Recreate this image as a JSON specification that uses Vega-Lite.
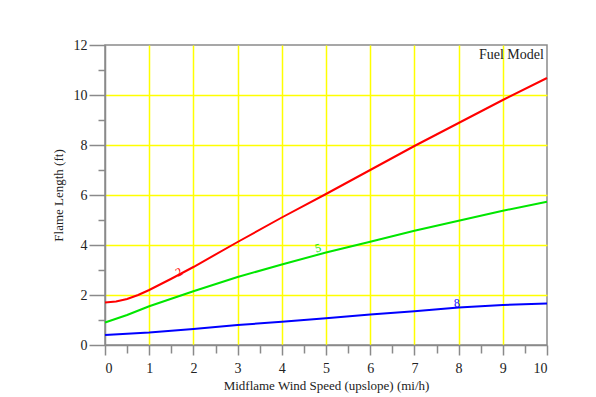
{
  "$schema": "https://vega.github.io/schema/vega-lite/v6.json",
  "width": 442,
  "height": 300,
  "autosize": {"type": "none"},
  "padding": {"left": 105, "top": 45, "right": 49, "bottom": 52},
  "background": "white",
  "config": {
    "view": {"stroke": "#8a8a8a", "strokeWidth": 1.5},
    "font": "Liberation Serif",
    "axis": {"domainColor": "#8a8a8a", "domainWidth": 1.5, "tickColor": "#8a8a8a", "tickWidth": 1.5, "labelFont": "Liberation Serif", "labelFontSize": 14, "labelColor": "#222222", "titleFont": "Liberation Serif", "titleFontSize": 13, "titleFontWeight": "normal", "titleColor": "#222222", "gridColor": "#ffff00", "gridWidth": 1.5, "gridOpacity": 1}
  },
  "datasets": {
    "lines": [
      {"model": "2", "wind": 0, "flame": 1.7},
      {"model": "2", "wind": 0.25, "flame": 1.74},
      {"model": "2", "wind": 0.5, "flame": 1.84},
      {"model": "2", "wind": 0.75, "flame": 2.0},
      {"model": "2", "wind": 1, "flame": 2.2},
      {"model": "2", "wind": 1.5, "flame": 2.65},
      {"model": "2", "wind": 2, "flame": 3.12},
      {"model": "2", "wind": 3, "flame": 4.12},
      {"model": "2", "wind": 4, "flame": 5.1},
      {"model": "2", "wind": 5, "flame": 6.04},
      {"model": "2", "wind": 6, "flame": 7.0},
      {"model": "2", "wind": 7, "flame": 7.96},
      {"model": "2", "wind": 8, "flame": 8.88},
      {"model": "2", "wind": 9, "flame": 9.8},
      {"model": "2", "wind": 10, "flame": 10.68},
      {"model": "5", "wind": 0, "flame": 0.9},
      {"model": "5", "wind": 0.5, "flame": 1.2},
      {"model": "5", "wind": 1, "flame": 1.55},
      {"model": "5", "wind": 1.5, "flame": 1.85},
      {"model": "5", "wind": 2, "flame": 2.15},
      {"model": "5", "wind": 3, "flame": 2.72},
      {"model": "5", "wind": 4, "flame": 3.22},
      {"model": "5", "wind": 5, "flame": 3.7},
      {"model": "5", "wind": 6, "flame": 4.13},
      {"model": "5", "wind": 7, "flame": 4.57},
      {"model": "5", "wind": 8, "flame": 4.97},
      {"model": "5", "wind": 9, "flame": 5.37},
      {"model": "5", "wind": 10, "flame": 5.73},
      {"model": "8", "wind": 0, "flame": 0.4},
      {"model": "8", "wind": 1, "flame": 0.5},
      {"model": "8", "wind": 2, "flame": 0.64},
      {"model": "8", "wind": 3, "flame": 0.8},
      {"model": "8", "wind": 4, "flame": 0.93},
      {"model": "8", "wind": 5, "flame": 1.07},
      {"model": "8", "wind": 6, "flame": 1.22},
      {"model": "8", "wind": 7, "flame": 1.35},
      {"model": "8", "wind": 8, "flame": 1.5},
      {"model": "8", "wind": 9, "flame": 1.6},
      {"model": "8", "wind": 10, "flame": 1.66}
    ],
    "labels": [
      {"model": "2", "wind": 1.67, "flame": 2.92},
      {"model": "5", "wind": 4.82, "flame": 3.88},
      {"model": "8", "wind": 7.96, "flame": 1.68}
    ],
    "title": [{"label": "Fuel Model"}]
  },
  "resolve": {"axis": {"x": "independent", "y": "independent"}},
  "layer": [
    {
      "data": {"name": "lines"},
      "mark": {"type": "line", "strokeWidth": 2, "opacity": 0},
      "encoding": {
        "x": {"field": "wind", "type": "quantitative", "scale": {"domain": [0, 10], "nice": false},
          "axis": {"orient": "bottom", "values": [1, 2, 3, 4, 5, 6, 7, 8, 9], "labels": false, "domain": false, "ticks": false, "grid": true, "gridColor": "#ffff00", "title": null}},
        "y": {"field": "flame", "type": "quantitative", "scale": {"domain": [0, 12], "nice": false},
          "axis": {"orient": "left", "values": [2, 4, 6, 8, 10], "labels": false, "domain": false, "ticks": false, "grid": true, "gridColor": "#ffff00", "title": null}},
        "detail": {"field": "model"}
      }
    },
    {
      "data": {"name": "lines"},
      "mark": {"type": "line", "strokeWidth": 2, "opacity": 0},
      "encoding": {
        "x": {"field": "wind", "type": "quantitative", "scale": {"domain": [0, 10], "nice": false},
          "axis": {"orient": "bottom", "values": [0.5, 1.5, 2.5, 3.5, 4.5, 5.5, 6.5, 7.5, 8.5, 9.5], "labels": false, "domain": false, "grid": false, "tickSize": 8, "title": null}},
        "y": {"field": "flame", "type": "quantitative", "scale": {"domain": [0, 12], "nice": false},
          "axis": {"orient": "left", "values": [1, 3, 5, 7, 9, 11], "labels": false, "domain": false, "grid": false, "tickSize": 7, "title": null}},
        "detail": {"field": "model"}
      }
    },
    {
      "data": {"name": "lines"},
      "mark": {"type": "line", "strokeWidth": 2},
      "encoding": {
        "x": {"field": "wind", "type": "quantitative", "scale": {"domain": [0, 10], "nice": false},
          "axis": {"orient": "bottom", "values": [0, 1, 2, 3, 4, 5, 6, 7, 8, 9, 10], "tickSize": 10, "labelPadding": 6, "grid": false,
            "title": "Midflame Wind Speed (upslope) (mi/h)", "titlePadding": 4}},
        "y": {"field": "flame", "type": "quantitative", "scale": {"domain": [0, 12], "nice": false},
          "axis": {"orient": "left", "values": [0, 2, 4, 6, 8, 10, 12], "tickSize": 16, "labelPadding": 2, "grid": false,
            "title": "Flame Length (ft)", "titlePadding": 8}},
        "color": {"field": "model", "type": "nominal", "scale": {"domain": ["2", "5", "8"], "range": ["#ff0000", "#00e600", "#0000ff"]}, "legend": null}
      }
    },
    {
      "data": {"name": "labels"},
      "transform": [{"filter": "datum.model == '2'"}],
      "mark": {"type": "text", "fontSize": 12, "angle": -27, "font": "Liberation Serif", "color": "#ff0000"},
      "encoding": {
        "x": {"field": "wind", "type": "quantitative", "axis": null},
        "y": {"field": "flame", "type": "quantitative", "axis": null},
        "text": {"field": "model"}
      }
    },
    {
      "data": {"name": "labels"},
      "transform": [{"filter": "datum.model == '5'"}],
      "mark": {"type": "text", "fontSize": 12, "angle": -14, "font": "Liberation Serif", "color": "#00e600"},
      "encoding": {
        "x": {"field": "wind", "type": "quantitative", "axis": null},
        "y": {"field": "flame", "type": "quantitative", "axis": null},
        "text": {"field": "model"}
      }
    },
    {
      "data": {"name": "labels"},
      "transform": [{"filter": "datum.model == '8'"}],
      "mark": {"type": "text", "fontSize": 12, "angle": -5, "font": "Liberation Serif", "color": "#0000ff"},
      "encoding": {
        "x": {"field": "wind", "type": "quantitative", "axis": null},
        "y": {"field": "flame", "type": "quantitative", "axis": null},
        "text": {"field": "model"}
      }
    },
    {
      "data": {"name": "title"},
      "mark": {"type": "text", "fontSize": 14, "align": "right", "baseline": "middle", "font": "Liberation Serif", "color": "#222222"},
      "encoding": {
        "x": {"datum": 9.93, "axis": null},
        "y": {"datum": 11.6, "axis": null},
        "text": {"field": "label"}
      }
    }
  ]
}
